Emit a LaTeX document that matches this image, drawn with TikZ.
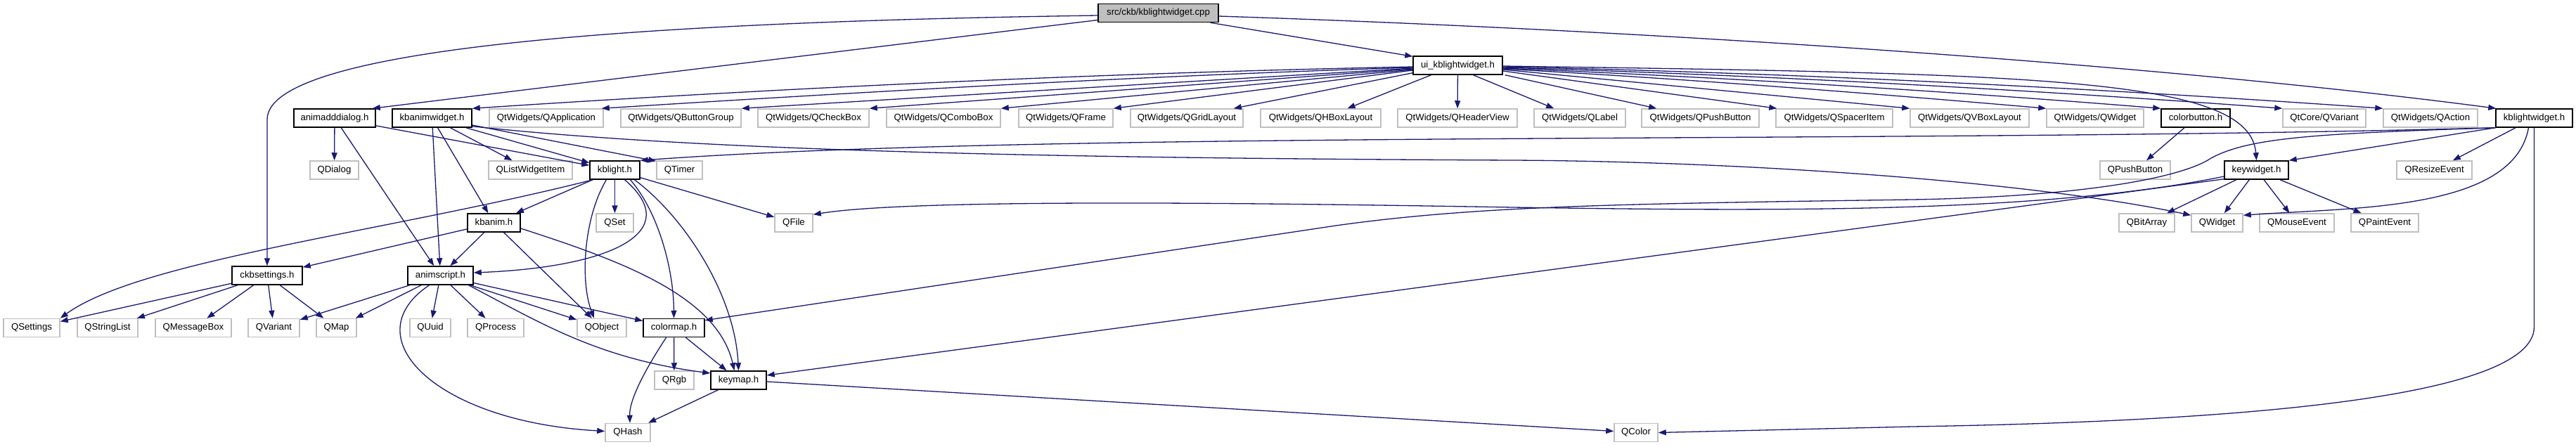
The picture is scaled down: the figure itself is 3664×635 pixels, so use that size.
\documentclass[tikz,border=0pt]{standalone}
\usepackage{fontspec}
\setmainfont{Liberation Sans}
\usetikzlibrary{arrows.meta}
\definecolor{edgeblue}{HTML}{191970}
\definecolor{boxgray}{HTML}{BFBFBF}
\definecolor{rootgray}{HTML}{BFBFBF}
\begin{document}
\begin{tikzpicture}[x=1pt,y=-1pt,
 nd/.style={draw=boxgray, fill=white, line width=1.5pt, minimum height=26pt, inner sep=0pt, text height=9.5pt, text depth=2.6pt, font=\fontsize{13.2}{15}\selectfont},
 blk/.style={nd, draw=black},
 root/.style={blk, fill=rootgray},
 dep/.style={draw=edgeblue, line width=1.3pt, -{Triangle[length=11pt,width=8pt]}}]
\fill[white] (0,0) rectangle (3664,635);
\useasboundingbox (0,0) rectangle (3664,635);
% row 0-1
\node[root, minimum width=171pt] (src) at (1647.5,18.5) {src/ckb/kblightwidget.cpp};
\node[blk, minimum width=127pt] (ui) at (2073.5,93) {ui\_kblightwidget.h};
% row 2
\node[blk, minimum width=116pt] (add) at (476,168) {animadddialog.h};
\node[blk, minimum width=113pt] (kbw) at (614.5,168) {kbanimwidget.h};
\node[nd, minimum width=162pt] (qapp) at (777,168) {QtWidgets/QApplication};
\node[nd, minimum width=171pt] (qbg) at (968.5,168) {QtWidgets/QButtonGroup};
\node[nd, minimum width=158pt] (qcb) at (1157,168) {QtWidgets/QCheckBox};
\node[nd, minimum width=162pt] (qcombo) at (1342,168) {QtWidgets/QComboBox};
\node[nd, minimum width=134pt] (qframe) at (1516,168) {QtWidgets/QFrame};
\node[nd, minimum width=160pt] (qgrid) at (1688,168) {QtWidgets/QGridLayout};
\node[nd, minimum width=171pt] (qhbox) at (1878.5,168) {QtWidgets/QHBoxLayout};
\node[nd, minimum width=170pt] (qhead) at (2073,168) {QtWidgets/QHeaderView};
\node[nd, minimum width=130pt] (qlabel) at (2247,168) {QtWidgets/QLabel};
\node[nd, minimum width=167pt] (qpbw) at (2418.5,168) {QtWidgets/QPushButton};
\node[nd, minimum width=166pt] (qspacer) at (2609,168) {QtWidgets/QSpacerItem};
\node[nd, minimum width=169pt] (qvbox) at (2801.5,168) {QtWidgets/QVBoxLayout};
\node[nd, minimum width=138pt] (qww) at (2980,168) {QtWidgets/QWidget};
\node[blk, minimum width=98pt] (cbtn) at (3123,168) {colorbutton.h};
\node[nd, minimum width=118pt] (qcvar) at (3306,168) {QtCore/QVariant};
\node[nd, minimum width=134pt] (qact) at (3457,168) {QtWidgets/QAction};
\node[blk, minimum width=109pt] (klw) at (3604.5,168) {kblightwidget.h};
% row 3
\node[nd, minimum width=69pt] (qdialog) at (475.5,242) {QDialog};
\node[nd, minimum width=119pt] (qlwi) at (754.5,242) {QListWidgetItem};
\node[blk, minimum width=71pt] (kbl) at (874.5,242) {kblight.h};
\node[nd, minimum width=65pt] (qtimer) at (966.5,242) {QTimer};
\node[nd, minimum width=100pt] (qpb) at (3037,242) {QPushButton};
\node[blk, minimum width=91pt] (kw) at (3209.5,242) {keywidget.h};
\node[nd, minimum width=107pt] (qresize) at (3462.5,242) {QResizeEvent};
% row 4
\node[blk, minimum width=75pt] (kba) at (702.5,317) {kbanim.h};
\node[nd, minimum width=53pt] (qset) at (874.5,317) {QSet};
\node[nd, minimum width=54pt] (qfile) at (1129,317) {QFile};
\node[nd, minimum width=79pt] (qbit) at (3053.5,317) {QBitArray};
\node[nd, minimum width=73pt] (qwid) at (3153.5,317) {QWidget};
\node[nd, minimum width=106pt] (qmouse) at (3267,317) {QMouseEvent};
\node[nd, minimum width=96pt] (qpaint) at (3392,317) {QPaintEvent};
% row 5
\node[blk, minimum width=100pt] (ckb) at (380,392) {ckbsettings.h};
\node[blk, minimum width=93pt] (ascr) at (626.5,392) {animscript.h};
% row 6
\node[nd, minimum width=80pt] (qsettings) at (45,466.5) {QSettings};
\node[nd, minimum width=86pt] (qsl) at (153,466.5) {QStringList};
\node[nd, minimum width=108pt] (qmb) at (275,466.5) {QMessageBox};
\node[nd, minimum width=73pt] (qvar) at (389.5,466.5) {QVariant};
\node[nd, minimum width=57pt] (qmap) at (478.5,466.5) {QMap};
\node[nd, minimum width=58pt] (quuid) at (612,466.5) {QUuid};
\node[nd, minimum width=80pt] (qproc) at (705,466.5) {QProcess};
\node[nd, minimum width=70pt] (qobj) at (856,466.5) {QObject};
\node[blk, minimum width=87pt] (cmap) at (958.5,466.5) {colormap.h};
% row 7-8
\node[nd, minimum width=56pt] (qrgb) at (959,541) {QRgb};
\node[blk, minimum width=79pt] (kmap) at (1050.5,541) {keymap.h};
\node[nd, minimum width=64pt] (qhash) at (893,615.5) {QHash};
\node[nd, minimum width=62pt] (qcolor) at (2327,615.5) {QColor};

% src edges
\draw[dep] ([yshift=-3.5pt]src.west) .. controls (1000,30) and (380,60) .. (380,170) -- (ckb.north);
\draw[dep] ([yshift=-10pt]src.west) -- ([xshift=-5pt]add.north east);
\draw[dep] ([xshift=74pt]src.south) -- ([yshift=-1pt]ui.north west);
\draw[dep] ([yshift=-4.5pt]src.east) .. controls (2400,45) and (3100,95) .. ([xshift=1pt]klw.north west);

% ui edges
\draw[dep] ([yshift=-2pt]ui.west) .. controls (1564,104) and (1117,125) .. (kbw.north east);
\draw[dep] ([yshift=-3pt]ui.west) .. controls (1625,108) and (1240,130) .. ([xshift=-3pt]qapp.north east);
\draw[dep] ([yshift=-4pt]ui.west) -- (qbg.north east);
\draw[dep] ([yshift=-5pt]ui.west) -- (qcb.north east);
\draw[dep] ([yshift=-6pt]ui.west) -- (qcombo.north east);
\draw[dep] ([yshift=-7pt]ui.west) -- (qframe.north east);
\draw[dep] ([yshift=3pt]ui.south west) -- ([xshift=-14pt]qgrid.north east);
\draw[dep] ([xshift=-38pt]ui.south) -- ([xshift=38pt]qhbox.north);
\draw[dep] (ui) -- (qhead);
\draw[dep] ([xshift=22pt]ui.south) -- ([xshift=29pt]qlabel.north west);
\draw[dep] ([xshift=3pt]ui.south east) -- ([xshift=22pt]qpbw.north west);
\draw[dep] ([yshift=-8pt]ui.east) -- ([xshift=2pt]qspacer.north west);
\draw[dep] ([yshift=-6pt]ui.east) -- (qvbox.north west);
\draw[dep] ([yshift=-5pt]ui.east) .. controls (2395,112) and (2653,132) .. (qww.north west);
\draw[dep] ([yshift=-4pt]ui.east) .. controls (2449,110) and (2762,129) .. (cbtn.north west);
\draw[dep] ([yshift=-3pt]ui.east) .. controls (2507,107) and (2877,127) .. (qcvar.north west);
\draw[dep] ([yshift=-2pt]ui.east) .. controls (2555,104) and (2972,125) .. (qact.north west);
\draw[dep] ([yshift=-1pt]ui.east) .. controls (2900,105) and (3200,110) .. (kw.north);

% kblightwidget.h edges
\draw[dep] (klw.south west) -- (kw.north east);
\draw[dep] (klw) -- (qresize);
\draw[dep] ([xshift=-8pt]klw.south) .. controls (3575,300) and (3350,295) .. ([yshift=-3pt]qwid.north east);
\draw[dep] (klw.south) -- (3604.5,465) .. controls (3604.5,570) and (3150,600) .. (2720,607) -- (qcolor.east);
\draw[dep] (klw.south west) .. controls (2700,205) and (1500,185) .. (kbl.north east);
\draw[dep] (klw.south west) .. controls (3300,190) and (3200,195) .. (3145,225) .. controls (3100,255) and (2950,280) .. (2720,284) .. controls (2300,290) and (2100,293) .. (1900,321) -- ([yshift=-3pt]cmap.north east);

% keywidget.h edges
\draw[dep] (kw) -- (qbit);
\draw[dep] (kw) -- (qwid);
\draw[dep] (kw) -- (qmouse);
\draw[dep] (kw) -- (qpaint);
\draw[dep] ([yshift=-9pt]kw.west) .. controls (2900,305) and (2500,300) .. (2152,295) .. controls (1800,289) and (1300,282) .. ([yshift=-2pt]qfile.north east);
\draw[dep] ([yshift=1pt]kw.south west) -- ([yshift=7pt]kmap.east);

% colorbutton.h
\draw[dep] (cbtn) -- (qpb);

% animadddialog.h
\draw[dep] (add) -- (qdialog);
\draw[dep] (add) -- (ascr);
\draw[dep] (add) -- (kbl);

% kbanimwidget.h
\draw[dep] (kbw) -- (ascr);
\draw[dep] (kbw) -- (kba);
\draw[dep] (kbw) -- (qlwi);
\draw[dep] (kbw) -- (kbl);
\draw[dep] ([yshift=-10pt]kbw.east) -- ([yshift=-1pt]qtimer.north west);
\draw[dep] ([yshift=2pt]kbw.south east) .. controls (1000,215) and (1500,225) .. (2152,228) .. controls (2500,230) and (2900,260) .. ([yshift=-3pt]qwid.north west);

% kblight.h
\draw[dep] ([xshift=5pt]kbl.south west) .. controls (550,330) and (200,370) .. (qsettings.north east);
\draw[dep] (kbl) -- (kba);
\draw[dep] ([xshift=-12pt]kbl.south) .. controls (830,310) and (825,400) .. ([xshift=-11pt]qobj.north);
\draw[dep] (kbl) -- (qset);
\draw[dep] ([xshift=14pt]kbl.south) .. controls (975,330) and (870,380) .. ([yshift=4pt]ascr.east);
\draw[dep] ([xshift=22pt]kbl.south) .. controls (935,300) and (958,380) .. (cmap.north);
\draw[dep] ([xshift=28pt]kbl.south) .. controls (975,310) and (1045,420) .. (kmap.north);
\draw[dep] (kbl) -- (qfile);

% kbanim.h
\draw[dep] (kba) -- (ckb);
\draw[dep] (kba) -- (ascr);
\draw[dep] (kba) -- (qobj);
\draw[dep] ([yshift=-8pt]kba.east) .. controls (880,370) and (1020,420) .. ([xshift=-6pt]kmap.north);

% ckbsettings.h
\draw[dep] (ckb) -- (qsettings);
\draw[dep] (ckb) -- (qsl);
\draw[dep] (ckb) -- (qmb);
\draw[dep] (ckb) -- (qvar);
\draw[dep] (ckb) -- (qmap);

% animscript.h
\draw[dep] (ascr) -- (qvar);
\draw[dep] (ascr) -- (qmap);
\draw[dep] (ascr) -- (quuid);
\draw[dep] (ascr) -- (qproc);
\draw[dep] (ascr) -- (qobj);
\draw[dep] (ascr) -- (cmap);
\draw[dep] ([xshift=-16pt]ascr.south) .. controls (500,480) and (620,600) .. ([yshift=2pt]qhash.west);
\draw[dep] ([xshift=40pt]ascr.south) .. controls (770,460) and (850,510) .. ([yshift=10pt]kmap.west);

% colormap.h
\draw[dep] ([xshift=-11pt]cmap.south) .. controls (915,530) and (895,570) .. ([xshift=3pt]qhash.north);
\draw[dep] (cmap) -- (qrgb);
\draw[dep] (cmap) -- (kmap);

% keymap.h
\draw[dep] (kmap) -- (qhash);
\draw[dep] ([yshift=-2pt]kmap.east) -- ([yshift=2pt]qcolor.west);
\end{tikzpicture}
\end{document}
